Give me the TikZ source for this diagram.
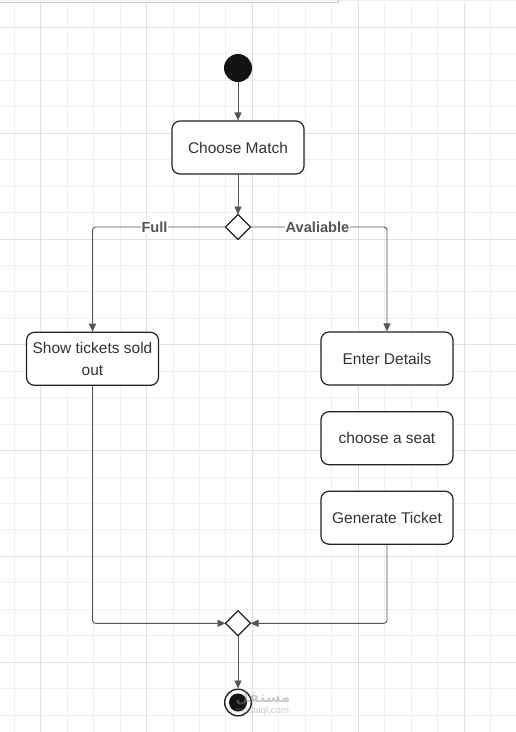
\documentclass[tikz,border=0pt]{standalone}
\usepackage{fontspec}
\setmainfont{Liberation Sans}
\newfontfamily\arabicfont[Script=Arabic]{DejaVu Sans}
\TeXXeTstate=1
\usetikzlibrary{shapes.geometric,arrows.meta}
\definecolor{minorgrid}{HTML}{F0F0F0}
\definecolor{majorgrid}{HTML}{E0E0E0}
\definecolor{boxline}{HTML}{222222}
\definecolor{txt}{HTML}{333333}
\definecolor{conline}{HTML}{555555}
\definecolor{lbltxt}{HTML}{555555}
\tikzset{
  actbox/.style={draw=boxline, line width=1.2pt, rounded corners=8pt, fill=white,
    minimum width=132pt, minimum height=53pt, inner sep=0pt, text=txt,
    font=\fontsize{15.5}{22}\selectfont, align=center},
  decis/.style={draw=boxline, line width=1.3pt, shape=diamond, fill=white,
    minimum width=25pt, minimum height=25pt, inner sep=0pt, outer sep=0pt},
  conn/.style={draw=conline, line width=0.9pt, rounded corners=3pt,
    -{Triangle[length=8pt,width=7pt]}},
  plainconn/.style={draw=conline, line width=0.9pt, rounded corners=3pt},
  lbl/.style={fill=white, inner sep=1pt, text=lbltxt, font=\bfseries\fontsize{14.6}{16}\selectfont},
  wmark/.style={text=black!45, opacity=0.45}
}
\begin{document}
\begin{tikzpicture}[x=1pt,y=-1pt]
\useasboundingbox (0,0) rectangle (516,732);
\fill[white] (0,0) rectangle (516,732);
% grid
\foreach \k in {-1,...,18} {
  \pgfmathsetmacro{\xx}{40.7+\k*26.45}
  \draw[minorgrid, line width=0.8pt] (\xx,3) -- (\xx,732);
}
\foreach \k in {-1,...,26} {
  \pgfmathsetmacro{\yy}{27.3+\k*26.45}
  \draw[minorgrid, line width=0.8pt] (0,\yy) -- (516,\yy);
}
\foreach \k in {0,...,4} {
  \pgfmathsetmacro{\xx}{40.7+\k*105.8}
  \draw[majorgrid, line width=0.8pt] (\xx,3) -- (\xx,732);
}
\foreach \k in {0,...,6} {
  \pgfmathsetmacro{\yy}{27.3+\k*105.8}
  \draw[majorgrid, line width=0.8pt] (0,\yy) -- (516,\yy);
}
\draw[black!22, line width=0.8pt] (0,2) -- (338,2) -- (338,0);

% nodes
\node[circle, fill=black!93, minimum size=28pt, inner sep=0pt] (start) at (238,68) {};
\node[actbox] (cm) at (238,147.5) {Choose Match};
\node[decis] (d1) at (238,227) {};
\node[actbox] (show) at (92.5,358.8) {Show tickets sold\\out};
\node[actbox] (ed) at (387,358.5) {Enter Details};
\node[actbox] (seat) at (387,438.2) {choose a seat};
\node[actbox] (gen) at (387,517.7) {Generate Ticket};
\node[decis] (d2) at (238,623.3) {};
\node[circle, draw=boxline, line width=1.4pt, fill=white, minimum size=26.6pt, inner sep=0pt] (end) at (238,702.5) {};
\fill[black!93] (end.center) circle (9pt);

% connectors
\draw[conn] (start.south) -- (cm.north);
\draw[conn] (cm.south) -- (d1.north);
\draw[conn] (d1.west) -| (show.north);
\draw[conn] (d1.east) -| (ed.north);
\draw[conn] (show.south) |- (d2.west);
\draw[conn] (gen.south) |- (d2.east);
\draw[conn] (d2.south) -- (end.north);

% labels
\node[lbl] (lfull) at (154.5,227.5) {Full};
\node[lbl] (lav) at (317.5,227.5) {Avaliable};

% watermark
\node[wmark, font=\arabicfont\bfseries\fontsize{15}{16}\selectfont] (wm1) at (263,698) {\beginR مستقل\endR};
\node[wmark, font=\fontsize{9.5}{10}\selectfont] (wm2) at (262,711.5) {mostaql.com};
\end{tikzpicture}
\end{document}
